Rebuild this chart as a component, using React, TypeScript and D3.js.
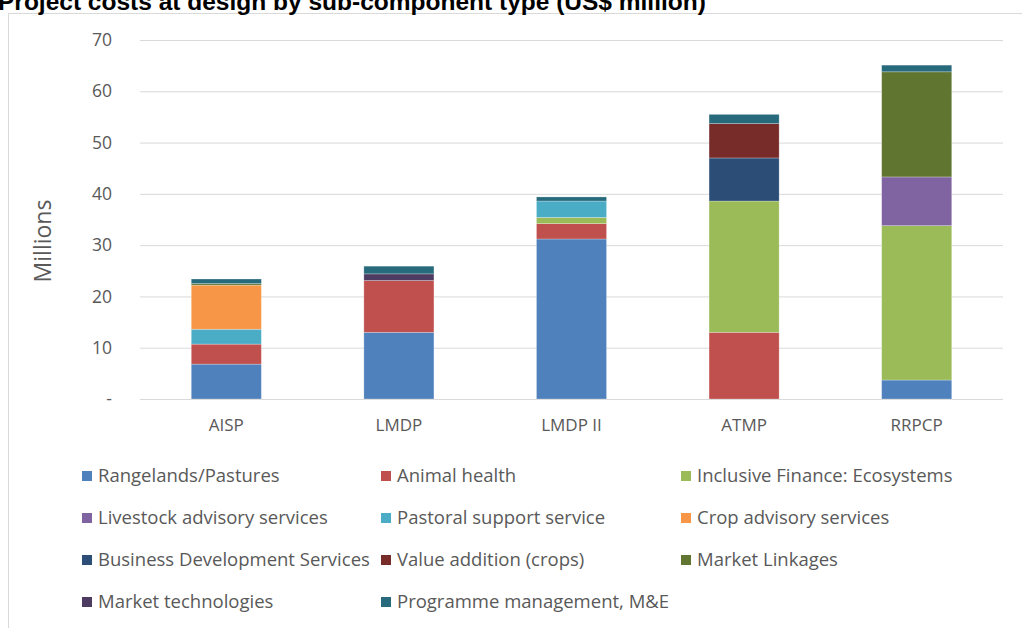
import React from "react";
import * as d3 from "d3";

const categories = ["AISP", "LMDP", "LMDP II", "ATMP", "RRPCP"];
const seriesNames = [
  "Rangelands/Pastures",
  "Animal health",
  "Inclusive Finance: Ecosystems",
  "Livestock advisory services",
  "Pastoral support service",
  "Crop advisory services",
  "Business Development Services",
  "Value addition (crops)",
  "Market Linkages",
  "Market technologies",
  "Programme management, M&E",
];
const seriesColors = [
  "#4f81bd", "#c0504d", "#9bbb59", "#8064a2", "#4bacc6", "#f79646",
  "#2c4d75", "#772c2a", "#5f7530", "#4d3b62", "#276a7c",
];
const rangelands = [6.8, 13.0, 31.2, 0, 3.7];
const animalHealth = [3.9, 10.1, 3.0, 13.0, 0];
const inclusiveFinance = [0, 0, 1.2, 25.6, 30.1];
const livestockAdvisory = [0, 0, 0, 0, 9.5];
const pastoralSupport = [2.9, 0, 3.2, 0, 0];
const cropAdvisory = [8.6, 0, 0, 0, 0];
const businessDev = [0, 0, 0, 8.4, 0];
const valueAddition = [0, 0, 0, 6.7, 0];
const marketLinkages = [0.3, 0, 0, 0, 20.5];
const marketTech = [0, 1.3, 0, 0, 0];
const programmeMgmt = [0.9, 1.5, 0.8, 1.8, 1.3];
const seriesValues = [
  rangelands, animalHealth, inclusiveFinance, livestockAdvisory, pastoralSupport,
  cropAdvisory, businessDev, valueAddition, marketLinkages, marketTech, programmeMgmt,
];
const yTicks = [0, 10, 20, 30, 40, 50, 60, 70];
const tickLabel = (v: number) => (v === 0 ? "-" : String(v));

export default function App() {
  const W = 1022, H = 628;
  const x = d3.scaleBand<string>().domain(categories).range([140, 1003]).paddingInner(0.594).paddingOuter(0.297);
  const y = d3.scaleLinear().domain([0, 70]).range([399, 40]);
  const rows = categories.map((c, i) => {
    const r: any = { cat: c };
    seriesNames.forEach((s, j) => (r[s] = seriesValues[j][i]));
    return r;
  });
  const stacked = d3.stack<any>().keys(seriesNames)(rows);
  const font = "'Open Sans', 'Liberation Sans', sans-serif";
  const legendTextX = [98, 397, 697];
  const legendRows = [476, 518, 560, 602];
  return (
    <svg width={W} height={H} style={{ position: "absolute", left: 0, top: 0, background: "#fff" }} fontFamily={font}>
      <rect x={0} y={0} width={W} height={H} fill="#fff" />
      <path d={`M8.5,${H} V13.5 H${W}`} fill="none" stroke="#d9d9d9" strokeWidth={1} />
      <text x={-2} y={10} fontSize={24.5} fontWeight="bold" fill="#000" fontFamily="'Liberation Sans', Arial, sans-serif">
        Project costs at design by sub-component type (US$ million)
      </text>
      {yTicks.map((t) => (
        <g key={t}>
          <line x1={140} x2={1003} y1={y(t) + 0.5} y2={y(t) + 0.5} stroke="#d9d9d9" strokeWidth={1} />
          <text x={112} y={y(t)} dy="0.35em" textAnchor="end" fontSize={17.5} fill="#595959">
            {tickLabel(t)}
          </text>
        </g>
      ))}
      <text transform={`translate(51,241) rotate(-90)`} textAnchor="middle" fontSize={23} fill="#595959">
        Millions
      </text>
      {stacked.map((layer, j) => (
        <g key={layer.key} fill={seriesColors[j]}>
          {layer.map((d, i) =>
            d[1] - d[0] > 0 ? (
              <rect
                key={i}
                x={x(categories[i])}
                width={x.bandwidth()}
                y={y(d[1])}
                height={y(d[0]) - y(d[1])}
                stroke="#ffffff"
                strokeOpacity={0.35}
                strokeWidth={0.75}
              />
            ) : null
          )}
        </g>
      ))}
      {categories.map((c) => (
        <text key={c} x={(x(c) as number) + x.bandwidth() / 2} y={425} dy="0.35em" textAnchor="middle" fontSize={17} fill="#595959">
          {c}
        </text>
      ))}
      {seriesNames.map((s, j) => {
        const col = j % 3, row = Math.floor(j / 3);
        const tx = legendTextX[col], ly = legendRows[row];
        return (
          <g key={s}>
            <rect x={tx - 16} y={ly - 5} width={10} height={10} fill={seriesColors[j]} />
            <text x={tx} y={ly} dy="0.35em" fontSize={18.5} fill="#595959">
              {s}
            </text>
          </g>
        );
      })}
    </svg>
  );
}
